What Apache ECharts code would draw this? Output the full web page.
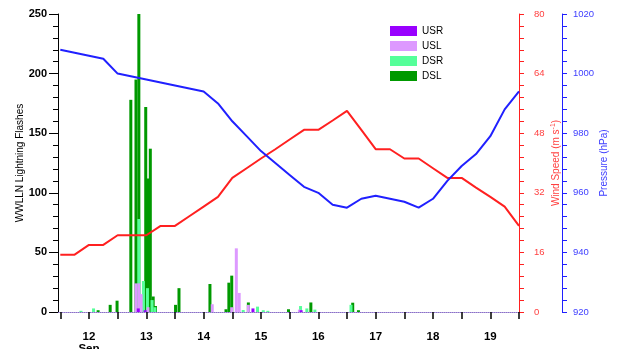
<!DOCTYPE html>
<html>
<head>
<meta charset="utf-8">
<script src="https://cdn.jsdelivr.net/npm/echarts@6/dist/echarts.min.js"></script>
<style>
html,body{margin:0;padding:0;background:#fff;}
#chart{width:621px;height:349px;}
</style>
</head>
<body>
<div id="chart"></div>
<script>
// ---- Data ----
const lineTimes = [11.5, 11.75, 12, 12.25, 12.5, 12.75, 13, 13.25, 13.5, 13.75, 14, 14.25, 14.5, 14.75, 15, 15.25, 15.5, 15.75, 16, 16.25, 16.5, 16.75, 17, 17.25, 17.5, 17.75, 18, 18.25, 18.5, 18.75, 19, 19.25, 19.5];
const windSpeed = [15.4, 15.4, 18.0, 18.0, 20.6, 20.6, 20.6, 23.1, 23.1, 25.7, 28.3, 30.9, 36.0, 38.6, 41.2, 43.7, 46.3, 48.9, 48.9, 51.4, 54.0, 48.9, 43.7, 43.7, 41.2, 41.2, 38.6, 36.0, 36.0, 33.4, 30.9, 28.3, 23.1];
const pressure = [1008, 1007, 1006, 1005, 1000, 999, 998, 997, 996, 995, 994, 990, 984, 979, 974, 970, 966, 962, 960, 956, 955, 958, 959, 958, 957, 955, 958, 964, 969, 973, 979, 988, 994];

const dslTimes = [12.16, 12.37, 12.49, 12.73, 12.82, 12.87, 12.99, 13.03, 13.07, 13.12, 13.16, 13.51, 13.57, 14.11, 14.39, 14.44, 14.49, 14.78, 15.48, 15.87, 16.60, 16.70];
const dslValues = [1.5, 6, 9.5, 178, 195, 250, 172, 112, 137, 13, 5, 6, 20, 23.5, 2.3, 24.6, 30.5, 8, 2.3, 8, 7.8, 1.5];
const dsrTimes = [11.86, 12.08, 12.87, 12.95, 13.02, 13.10, 13.15, 14.69, 14.94, 15.04, 15.12, 15.69, 15.80, 15.94, 16.57];
const dsrValues = [1, 3, 78, 26, 20, 10, 4, 1.7, 4.5, 1.5, 1, 5, 3, 2, 6];
const uslTimes = [12.82, 12.87, 12.91, 13.03, 14.15, 14.49, 14.57, 14.62, 14.78, 15.67];
const uslValues = [24, 24, 15, 4, 6.5, 4, 53.4, 16, 6, 2];
const usrTimes = [12.86, 12.98, 14.86, 15.70];
const usrValues = [3, 1.5, 3, 1.5];

const halfDayTicks = [11.5, 12, 12.5, 13, 13.5, 14, 14.5, 15, 15.5, 16, 16.5, 17, 17.5, 18, 18.5, 19, 19.5];
const dayLabels = [12, 13, 14, 15, 16, 17, 18, 19];
const monthLabel = 'Sep';

// ---- Helpers ----
function pairs(xs, ys) { return xs.map((x, i) => [x, ys[i]]); }

const FONT = 'Liberation Sans, Arial, Helvetica, sans-serif';
const RED = '#ff2020';
const RED_TXT = '#ff4040';
const BLUE = '#2020ff';
const BLUE_TXT = '#4040ff';

const chart = echarts.init(document.getElementById('chart'), null, {renderer: 'canvas'});

function barSeries(name, xs, ys, color) {
  return {
    name: name, type: 'bar', xAxisIndex: 0, yAxisIndex: 0,
    data: pairs(xs, ys), barWidth: 3, barGap: '-100%',
    itemStyle: {color: color}, z: 2, silent: true
  };
}

const option = {
  animation: false,
  backgroundColor: '#ffffff',
  textStyle: {fontFamily: FONT},
  grid: {left: 58, right: 102, top: 14, bottom: 37, containLabel: false, outerBoundsMode: 'none'},
  legend: {
    orient: 'vertical', left: 385, top: 21,
    itemWidth: 27, itemHeight: 10, itemGap: 5, icon: 'rect',
    data: ['USR', 'USL', 'DSR', 'DSL'],
    textStyle: {fontSize: 10, color: '#000', fontFamily: FONT}
  },
  xAxis: {
    type: 'value', min: 11.46, max: 19.5,
    splitLine: {show: false},
    axisLine: {show: true, onZero: false, lineStyle: {color: '#8a70c8', type: 'dotted', width: 1}},
    axisTick: {show: true, customValues: halfDayTicks, length: 7, lineStyle: {color: '#000', width: 1.5}},
    axisLabel: {
      customValues: dayLabels, margin: 19, fontSize: 11.5, fontWeight: 'bold', color: '#000',
      lineHeight: 12, fontFamily: FONT, hideOverlap: false,
      formatter: function (v) { return v === dayLabels[0] ? v + '\n' + monthLabel : String(v); }
    }
  },
  yAxis: [
    {
      type: 'value', min: 0, max: 250, interval: 50, position: 'left',
      name: 'WWLLN Lightning Flashes', nameLocation: 'middle', nameGap: 33, nameRotate: 90,
      nameMoveOverlap: false,
      nameTextStyle: {fontSize: 10, color: '#000', fontFamily: FONT},
      splitLine: {show: false},
      axisLine: {show: true, lineStyle: {color: '#000', width: 1}},
      axisTick: {show: true, length: 9, lineStyle: {color: '#000'}},
      minorTick: {show: true, splitNumber: 5, length: 5, lineStyle: {color: '#000'}},
      axisLabel: {fontSize: 11, fontWeight: 'bold', color: '#000', margin: 11, fontFamily: FONT}
    },
    {
      type: 'value', min: 0, max: 80, interval: 16, position: 'right', offset: 0,
      name: 'Wind Speed (m s{sup|-1})', nameLocation: 'middle', nameGap: 31, nameRotate: 90,
      nameMoveOverlap: false,
      nameTextStyle: {fontSize: 10, color: RED_TXT, fontFamily: FONT,
        rich: {sup: {fontSize: 7, verticalAlign: 'top', color: RED_TXT, padding: [0, 0, 5, 0]}}},
      splitLine: {show: false},
      axisLine: {show: true, lineStyle: {color: RED, width: 1}},
      axisTick: {show: true, length: 5, lineStyle: {color: RED}},
      minorTick: {show: true, splitNumber: 5, length: 5, lineStyle: {color: RED}},
      axisLabel: {fontSize: 9.5, color: RED_TXT, margin: 15, fontFamily: FONT}
    },
    {
      type: 'value', min: 920, max: 1020, interval: 20, position: 'right', offset: 43,
      name: 'Pressure (hPa)', nameLocation: 'middle', nameGap: 37, nameRotate: 90,
      nameMoveOverlap: false,
      nameTextStyle: {fontSize: 10, color: BLUE_TXT, fontFamily: FONT},
      splitLine: {show: false},
      axisLine: {show: true, lineStyle: {color: BLUE, width: 1}},
      axisTick: {show: true, length: 5, lineStyle: {color: BLUE}},
      minorTick: {show: true, splitNumber: 5, length: 5, lineStyle: {color: BLUE}},
      axisLabel: {fontSize: 9.5, color: BLUE_TXT, margin: 11, fontFamily: FONT,
        formatter: function (v) { return String(v); }}
    }
  ],
  series: [
    barSeries('DSL', dslTimes, dslValues, '#009900'),
    barSeries('DSR', dsrTimes, dsrValues, '#55ff99'),
    barSeries('USL', uslTimes, uslValues, '#dd99ff'),
    barSeries('USR', usrTimes, usrValues, '#9900ff'),
    {
      name: 'Wind', type: 'line', yAxisIndex: 1, data: pairs(lineTimes, windSpeed),
      showSymbol: false, lineStyle: {color: RED, width: 2}, itemStyle: {color: RED}, z: 5, silent: true
    },
    {
      name: 'Pressure', type: 'line', yAxisIndex: 2, data: pairs(lineTimes, pressure),
      showSymbol: false, lineStyle: {color: BLUE, width: 2}, itemStyle: {color: BLUE}, z: 5, silent: true
    }
  ]
};
chart.setOption(option);
</script>
</body>
</html>
